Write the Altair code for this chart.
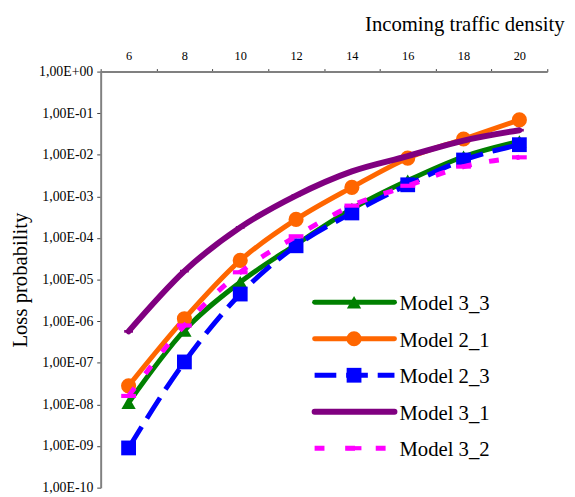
import altair as alt
import pandas as pd

# ---- data ----
x_vals = [6, 8, 10, 12, 14, 16, 18, 20]
series_names = ["Model 3_3", "Model 2_1", "Model 2_3", "Model 3_1", "Model 3_2"]
model_3_3 = [1.1e-8, 6.0e-7, 8.7e-6, 7.0e-5, 5.0e-4, 2.4e-3, 9.0e-3, 2.1e-2]
model_2_1 = [2.8e-8, 1.15e-6, 2.9e-5, 2.8e-4, 1.65e-3, 8.3e-3, 2.4e-2, 6.9e-2]
model_2_3 = [9.0e-10, 1.05e-7, 4.5e-6, 6.5e-5, 4.0e-4, 1.9e-3, 7.5e-3, 1.75e-2]
model_3_1 = [5.7e-7, 1.6e-5, 1.8e-4, 1.05e-3, 4.0e-3, 9.3e-3, 2.2e-2, 3.9e-2]
model_3_2 = [1.6e-8, 7.9e-7, 1.5e-5, 1.1e-4, 6.0e-4, 1.8e-3, 5.2e-3, 8.7e-3]
x_tick_values = [5, 7, 9, 11, 13, 15, 17, 19, 21]
y_tick_values = [1e-10, 1e-9, 1e-8, 1e-7, 1e-6, 1e-5, 1e-4, 1e-3, 1e-2, 1e-1, 1]

all_vals = [model_3_3, model_2_1, model_2_3, model_3_1, model_3_2]
rows = []
for name, vals in zip(series_names, all_vals):
    for xv, v in zip(x_vals, vals):
        rows.append({"series": name, "x": xv, "p": v})
df = pd.DataFrame(rows)
leg_df = pd.DataFrame({"series": series_names})

FONT = "Liberation Serif"
W, H = 453, 422

styles = {
    "Model 3_3": dict(color="#008000", sw=5, dash=None, ldash=None, shape="triangle-up", size=210),
    "Model 2_1": dict(color="#FF6600", sw=5, dash=None, ldash=None, shape="circle", size=235),
    "Model 2_3": dict(color="#0000FF", sw=5, dash=[25, 10], ldash=[22, 10], shape="square", size=225),
    "Model 3_1": dict(color="#800080", sw=6, dash=None, ldash=None, shape="M-1,-0.3H1V0.3H-1Z", size=80),
    "Model 3_2": dict(color="#FF00FF", sw=5, dash=[10, 18], ldash=[10, 21], shape="M-1,-0.28H1V0.28H-1Z", size=225),
}

y_label_expr = (
    "'1,00E' + (round(log(datum.value)/LN10) >= 0 ? '+' : '-') + "
    "(abs(round(log(datum.value)/LN10)) < 10 ? '0' : '') + abs(round(log(datum.value)/LN10))"
)

x_enc = alt.X(
    "x:Q",
    scale=alt.Scale(domain=[5, 21], nice=False, zero=False),
    axis=alt.Axis(
        orient="top", values=x_tick_values,
        labelExpr="datum.value < 20.5 ? toString(datum.value + 1) : ''",
        labelOffset=28.3, tickSize=3, labelPadding=9, labelBaseline="alphabetic",
        labelFont=FONT, labelFontSize=12.5, labelColor="black",
        labelOverlap=False, labelFlush=False, labelBound=False, grid=False,
        domainColor="#808080", domainWidth=2, tickColor="#404040", tickWidth=1,
        title="Incoming traffic density", titleFont=FONT, titleFontSize=21,
        titleFontWeight="normal", titleColor="black", titleAlign="right",
        titleBaseline="alphabetic", titleX=470, titleY=-42, titleAngle=0,
    ),
)
y_enc = alt.Y(
    "p:Q",
    scale=alt.Scale(type="log", domain=[1e-10, 1], nice=False),
    axis=alt.Axis(
        values=y_tick_values, labelExpr=y_label_expr,
        tickSize=4, labelPadding=4, labelFont=FONT, labelFontSize=14,
        labelColor="black", labelOverlap=False, labelFlush=False, labelBound=False,
        grid=False, domainColor="#808080", domainWidth=2,
        tickColor="#404040", tickWidth=1,
        title="Loss probability", titleFont=FONT, titleFontSize=21,
        titleFontWeight="normal", titleColor="black", titleAngle=-90,
        titleAlign="center", titleBaseline="alphabetic", titleX=-75, titleY=211,
    ),
)

base = alt.Chart(df)
layers = []
for name in series_names:
    s = styles[name]
    sub = base.transform_filter(alt.datum.series == name)
    lkw = dict(color=s["color"], strokeWidth=s["sw"], interpolate="monotone")
    if s["dash"]:
        lkw["strokeDash"] = s["dash"]
        lkw["strokeCap"] = "butt"
    else:
        lkw["strokeCap"] = "round"
    layers.append(sub.mark_line(**lkw).encode(x=x_enc, y=y_enc))
    layers.append(
        sub.mark_point(shape=s["shape"], filled=True, size=s["size"],
                       color=s["color"], opacity=1, strokeWidth=0)
        .encode(x=x_enc, y=y_enc)
    )

# legend drawn inside plot area (lower right)
leg_x0, leg_x1, leg_mid, leg_tx = 217, 298, 257, 303
for i, name in enumerate(series_names):
    s = styles[name]
    ly = 234 + 37 * i
    lsub = alt.Chart(leg_df).transform_filter(alt.datum.series == name)
    rkw = dict(color=s["color"], strokeWidth=s["sw"])
    if s["ldash"]:
        rkw["strokeDash"] = s["ldash"]
        rkw["strokeCap"] = "butt"
    else:
        rkw["strokeCap"] = "round"
    layers.append(lsub.mark_rule(**rkw).encode(
        x=alt.value(leg_x0), x2=alt.value(leg_x1), y=alt.value(ly)))
    if name != "Model 3_1":
        layers.append(lsub.mark_point(shape=s["shape"], filled=True, size=s["size"],
                                      color=s["color"], opacity=1, strokeWidth=0)
                      .encode(x=alt.value(leg_mid), y=alt.value(ly)))
    layers.append(lsub.mark_text(align="left", baseline="middle", font=FONT,
                                 fontSize=21, color="black")
                  .encode(x=alt.value(leg_tx), y=alt.value(ly + 2), text="series:N"))

chart = (
    alt.layer(*layers)
    .properties(
        width=W, height=H,
        padding={"left": 94, "top": 61, "right": 20, "bottom": 6},
        autosize=alt.AutoSizeParams(type="none"),
        background="white",
    )
    .configure_view(stroke=None)
)

chart.save("out.html", embed_options={"renderer": "svg", "actions": False})
